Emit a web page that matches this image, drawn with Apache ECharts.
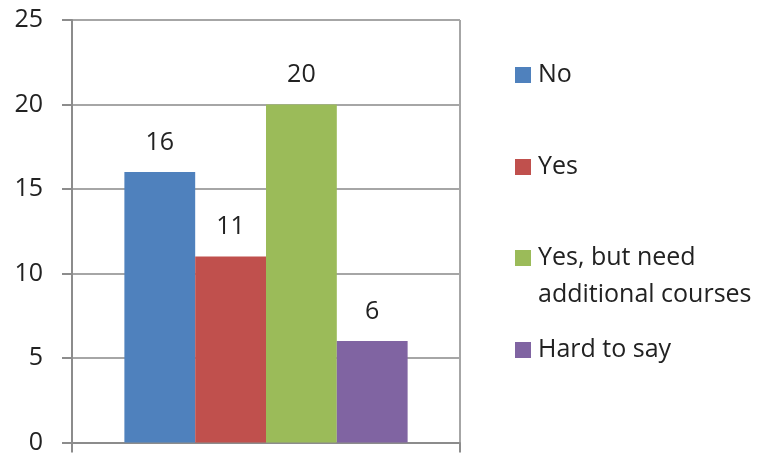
<!DOCTYPE html>
<html>
<head>
<meta charset="utf-8">
<script src="https://cdn.jsdelivr.net/npm/echarts@6/dist/echarts.min.js"></script>
<style>
  html, body { margin: 0; padding: 0; background: #ffffff; }
  #chart { width: 765px; height: 455px; }
</style>
</head>
<body>
<div id="chart"></div>
<script>
const categories = [''];
const seriesNames = ['No', 'Yes', 'Yes, but need additional courses', 'Hard to say'];
const seriesValues = [16, 11, 20, 6];
const seriesColors = ['#4F81BD', '#C0504D', '#9BBB59', '#8064A2'];
const yTicks = [0, 5, 10, 15, 20, 25];

const FONT = '"Open Sans"';
const textColor = '#222222';

const chart = echarts.init(document.getElementById('chart'), null, { renderer: 'canvas' });

const series = seriesNames.map((name, i) => ({
  name: name,
  type: 'bar',
  data: [seriesValues[i]],
  barGap: '0%',
  barCategoryGap: '27%',
  itemStyle: { color: seriesColors[i] },
  label: {
    show: true,
    position: 'top',
    distance: 17,
    fontFamily: FONT,
    fontSize: 25,
    color: textColor
  },
  emphasis: { disabled: true }
}));

const legendTops = [60, 152, 239.5, 335];
const legends = seriesNames.map((name, i) => {
  const base = {
    left: 515,
    top: legendTops[i],
    orient: 'vertical',
    padding: 0,
    itemWidth: 16,
    itemHeight: 16,
    itemGap: 0,
    selectedMode: false,
    textStyle: {
      fontFamily: FONT,
      fontSize: 25,
      color: textColor,
      lineHeight: 30,
      padding: [0, 0, 0, 2]
    },
    data: [{ name: name, icon: 'rect' }]
  };
  if (i === 2) {
    base.itemHeight = 74;
    base.textStyle.lineHeight = 37;
    base.data = [{ name: name, icon: 'path://M0,0H0.01V0.01H0Z M0,10.5H16V26.5H0Z M0,73.99H0.01V74H0Z' }];
    base.formatter = function () { return 'Yes, but need\nadditional courses'; };
  }
  return base;
});

chart.setOption({
  animation: false,
  backgroundColor: '#ffffff',
  grid: { left: 72, right: 305, top: 20, bottom: 12, containLabel: false },
  legend: legends,
  xAxis: {
    type: 'category',
    data: categories,
    boundaryGap: true,
    axisLine: { show: true, lineStyle: { color: '#8c8c8c', width: 2 } },
    axisTick: { show: true, length: 10, lineStyle: { color: '#8c8c8c', width: 2 } },
    axisLabel: { show: false },
    splitLine: { show: true, lineStyle: { color: '#a6a6a6', width: 2 } }
  },
  yAxis: {
    type: 'value',
    min: yTicks[0],
    max: yTicks[yTicks.length - 1],
    interval: 5,
    axisLine: { show: true, lineStyle: { color: '#8c8c8c', width: 2 } },
    axisTick: { show: true, length: 10, lineStyle: { color: '#8c8c8c', width: 2 } },
    axisLabel: {
      margin: 29,
      fontFamily: FONT,
      fontSize: 25,
      color: textColor
    },
    splitLine: { show: true, lineStyle: { color: '#a6a6a6', width: 2 } }
  },
  series: series
});
</script>
</body>
</html>
